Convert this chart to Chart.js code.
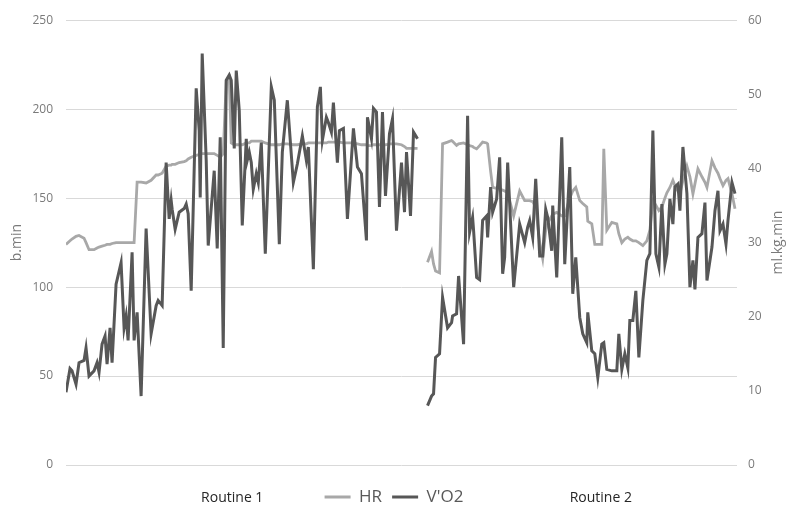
<!DOCTYPE html>
<html>
<head>
<meta charset="utf-8">
<script src="https://cdn.jsdelivr.net/npm/chart.js@4.4.1/dist/chart.umd.min.js"></script>
<style>
  html, body { margin: 0; padding: 0; background: #fff; }
  #wrap { width: 788px; height: 509px; position: relative; }
</style>
</head>
<body>
<div id="wrap"><canvas id="chart"></canvas></div>
<script>
// elapsed time (s); the null row separates the two routines
const time = [
  0, 4, 6, 10, 13, 18, 20, 23, 28, 31,
  33, 36, 39, 41, 44, 46, 50, 55, 58, 60,
  62, 66, 68, 71, 75, 80, 85, 90, 92, 96,
  100, 103, 105, 106, 109, 113, 118, 120, 122, 125,
  130, 133, 134, 136, 140, 142, 148, 151, 154, 157,
  160, 163, 165, 168, 170, 173, 176, 180, 181, 183,
  185, 187, 190, 192, 195, 199, 205, 208, 213, 216,
  221, 227, 231, 236, 240, 242, 247, 251, 254, 256,
  260, 262, 265, 267, 271, 273, 277, 281, 287, 291,
  295, 300, 301, 305, 307, 310, 313, 316, 319, 323,
  326, 330, 335, 338, 340, 344, 347, 351,
  356,
  361, 365, 367, 369, 373, 376, 381, 385, 386, 390,
  392, 397, 401, 403, 406, 407, 410, 413, 416, 420,
  421, 424, 426, 430, 433, 436, 438, 441, 447, 453,
  458, 461, 463, 466, 469, 473, 476, 479, 481, 485,
  486, 490, 495, 498, 503, 506, 509, 513, 516, 520,
  521, 525, 528, 531, 535, 537, 540, 545, 550, 552,
  555, 558, 561, 563, 566, 569, 572, 576, 580, 583,
  586, 589, 592, 595, 598, 600, 603, 606, 608, 611,
  613, 616, 620, 623, 626, 628, 631, 635, 638, 640,
  645, 648, 651, 653, 656, 659, 661, 665, 668
];

// heart rate, b.min
const hr = [
  124, 126, 127, 128.5, 129, 127.5, 125, 121, 121, 122,
  122.5, 123, 123.5, 124, 124, 124.5, 125, 125, 125, 125,
  125, 125, 125, 159, 159, 158.5, 160, 163, 163, 164,
  168, 168.5, 168.5, 169, 169, 170, 170.5, 171, 172, 173,
  174, 174.5, 175, 175, 175, 175, 175, 174, 173, 175,
  216, 218, 181, 180, 180, 180, 180, 181, 181, 181,
  182, 182, 182, 182, 182, 181, 180, 180, 180, 180.5,
  180.5, 180, 180, 180.5, 180.5, 181, 181, 181, 181, 181,
  181, 181.5, 181.5, 181.5, 181.5, 181.5, 181, 181, 181, 180.5,
  180, 180, 179.5, 179.5, 180, 180, 180, 180, 180, 180.5,
  180.5, 180.5, 180, 179, 178, 178, 178, 178,
  null,
  114, 120, 113, 109, 108, 180.5, 181.5, 182.4, 182, 179.6,
  180.5, 181, 180, 179.5, 179, 178.5, 177.7, 179.5, 181.5, 181,
  180.5, 165, 156, 155.5, 155, 154.5, 154, 153, 140, 154,
  148.6, 148.6, 148.6, 148, 145, 125, 116, 132, 136, 140,
  141, 142, 140, 140, 150, 154, 156, 148.6, 147, 145,
  137, 135.5, 124, 124, 124, 177.7, 132, 136.4, 135.5, 130,
  125, 127, 128, 127, 126, 126, 125, 123.3, 126, 132,
  148.6, 146, 143, 145, 150, 153, 156, 160, 157, 154,
  152.4, 160, 168, 162, 152.4, 158, 166.5, 162, 158.9, 156,
  171, 167, 164, 161, 157, 160, 161, 152.4, 144
];

// oxygen uptake, ml.kg.min
const vo2 = [
  9.8, 13.0, 12.7, 10.9, 13.8, 14.1, 15.8, 12.0, 12.7, 13.8,
  12.5, 16.3, 17.4, 13.6, 18.5, 13.8, 24.4, 27.3, 18.5, 20.1,
  16.8, 28.7, 16.8, 20.6, 9.3, 31.9, 17.7, 21.5, 22.2, 21.5,
  40.8, 33.2, 35.7, 34.5, 31.8, 34.1, 34.6, 35.2, 33.9, 23.5,
  50.8, 45.1, 36.1, 55.5, 41.1, 29.6, 39.7, 29.2, 44.2, 15.8,
  51.9, 52.6, 51.9, 42.7, 53.2, 47.8, 32.3, 44.0, 41.1, 42.2,
  40.8, 37.2, 39.3, 38.1, 43.5, 28.5, 51.0, 49.2, 29.8, 42.2,
  49.2, 38.1, 40.6, 44.4, 41.1, 42.9, 26.4, 48.3, 51.0, 43.8,
  46.9, 46.2, 44.9, 48.9, 40.8, 45.1, 45.4, 33.2, 45.4, 40.2,
  39.3, 30.3, 46.9, 44.0, 48.1, 47.6, 34.8, 47.6, 36.3, 44.7,
  46.7, 31.6, 40.8, 34.1, 42.2, 33.6, 44.9, 44.0,
  null,
  8.0, 9.3, 9.6, 14.5, 15.0, 22.6, 18.5, 19.2, 20.1, 20.4,
  25.5, 16.3, 47.1, 31.4, 33.4, 31.6, 25.3, 25.0, 33.0, 33.6,
  30.7, 37.5, 34.1, 35.9, 41.5, 25.8, 28.0, 40.8, 24.0, 32.5,
  30.0, 32.1, 33.0, 30.7, 38.6, 28.2, 28.2, 34.5, 33.4, 28.9,
  35.0, 25.3, 44.2, 27.1, 40.2, 23.1, 28.0, 19.9, 17.7, 16.5,
  20.6, 15.4, 15.0, 11.8, 16.3, 16.5, 12.9, 12.7, 12.7, 17.7,
  12.9, 15.0, 13.1, 19.5, 19.5, 23.5, 14.5, 22.2, 27.6, 28.5,
  45.1, 28.5, 26.7, 35.2, 27.1, 28.5, 35.9, 32.5, 37.5, 37.9,
  34.3, 42.9, 36.6, 24.0, 27.6, 23.7, 30.7, 31.2, 35.4, 24.9,
  29.4, 34.3, 37.0, 31.6, 32.5, 29.8, 33.0, 38.1, 36.6
];

const routines = ['Routine 1', 'Routine 2'];
const routineLabelTime = [166, 534];

const HR_COLOR = '#a8a8a8';
const VO2_COLOR = '#575757';
const GRID = '#d9d9d9';
const TICK = '#7a7a7a';

// "Routine" captions on the legend row + right-hand axis title
const extrasPlugin = {
  id: 'extras',
  afterDraw(chart) {
    const ctx = chart.ctx;
    const xs = chart.scales.x;
    const lg = chart.legend;
    const yMid = lg.top + lg.options.labels.padding + lg.options.labels.font.size / 2;
    ctx.save();
    ctx.fillStyle = '#262626';
    ctx.font = '14px "Open Sans", sans-serif';
    ctx.textAlign = 'center';
    ctx.textBaseline = 'middle';
    routines.forEach((r, i) => {
      ctx.fillText(r, xs.getPixelForValue(routineLabelTime[i]), yMid + 1);
    });
    // right axis title, reads bottom to top
    const area = chart.chartArea;
    ctx.translate(chart.width - 10, (area.top + area.bottom) / 2);
    ctx.rotate(-Math.PI / 2);
    ctx.fillStyle = TICK;
    ctx.font = '14px "Open Sans", sans-serif';
    ctx.fillText('ml.kg.min', 0, 0);
    ctx.restore();
  }
};

const ctx = document.getElementById('chart');
new Chart(ctx, {
  type: 'line',
  data: {
    datasets: [
      {
        label: 'HR',
        data: time.map((t, i) => ({ x: t, y: hr[i] })),
        borderColor: HR_COLOR,
        backgroundColor: HR_COLOR,
        borderWidth: 2.8,
        pointRadius: 0,
        yAxisID: 'y',
        order: 1
      },
      {
        label: "V'O2",
        data: time.map((t, i) => ({ x: t, y: vo2[i] })),
        borderColor: VO2_COLOR,
        backgroundColor: VO2_COLOR,
        borderWidth: 3,
        pointRadius: 0,
        yAxisID: 'y1',
        order: 0
      }
    ]
  },
  options: {
    responsive: true,
    maintainAspectRatio: false,
    animation: false,
    layout: { padding: { top: 20, bottom: -6.5, left: 0, right: 0 } },
    plugins: {
      tooltip: { enabled: false },
      legend: {
        position: 'bottom',
        labels: {
          boxWidth: 26,
          boxHeight: 3,
          padding: 10,
          color: '#595959',
          font: { family: '"Open Sans", sans-serif', size: 17 },
          sort: (a, b) => a.datasetIndex - b.datasetIndex,
          generateLabels: (chart) =>
            Chart.defaults.plugins.legend.labels.generateLabels(chart).map(it => ({
              ...it, fillStyle: it.strokeStyle, lineWidth: 0
            }))
        }
      }
    },
    scales: {
      x: {
        type: 'linear',
        min: 0,
        max: 670,
        grid: { display: false },
        border: { display: false },
        ticks: { display: false },
        afterFit: (s) => { s.height = 13.5; }
      },
      y: {
        position: 'left',
        min: 0,
        max: 250,
        ticks: { stepSize: 50, padding: 13, color: TICK, font: { family: '"Open Sans", sans-serif', size: 12 } },
        grid: { color: GRID, drawTicks: false, lineWidth: 1 },
        border: { display: false },
        title: { display: true, text: 'b.min', color: TICK, padding: { top: 9 }, font: { family: '"Open Sans", sans-serif', size: 14 } },
        afterFit: (s) => { s.width = 66; }
      },
      y1: {
        position: 'right',
        min: 0,
        max: 60,
        ticks: { stepSize: 10, padding: 11, color: TICK, font: { family: '"Open Sans", sans-serif', size: 12 } },
        grid: { display: false, drawTicks: false },
        border: { display: false },
        afterFit: (s) => { s.width = 51; }
      }
    }
  },
  plugins: [extrasPlugin]
});
</script>
</body>
</html>
